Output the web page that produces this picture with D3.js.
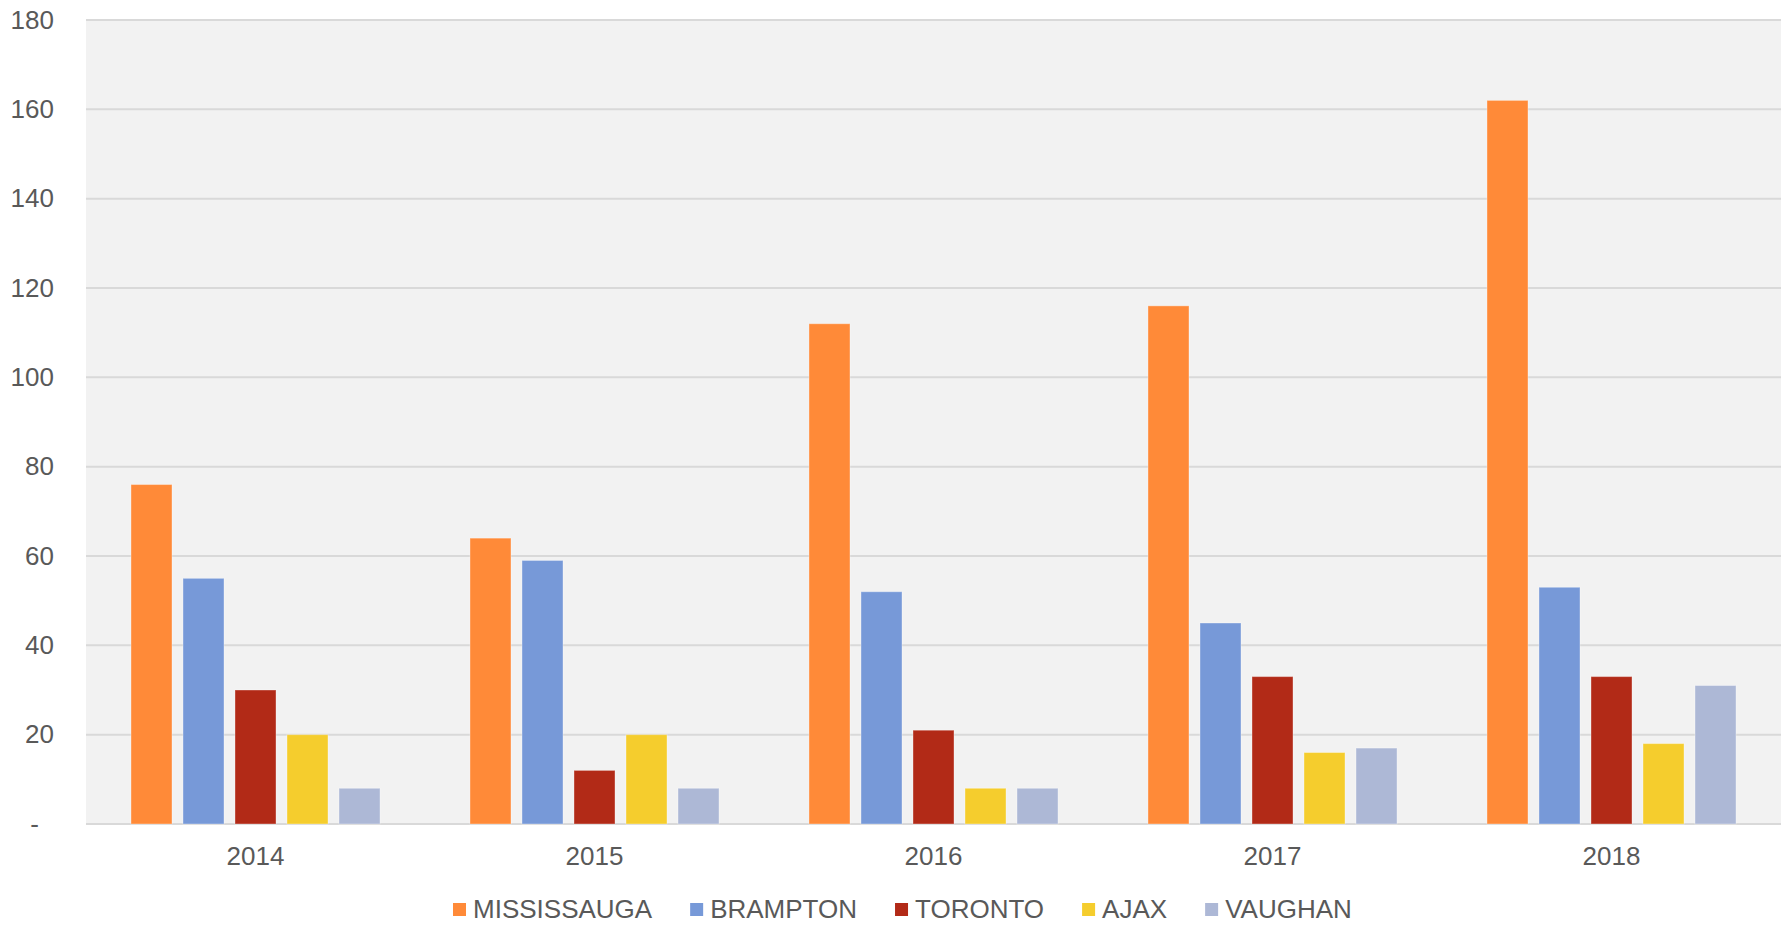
<!DOCTYPE html>
<html>
<head>
<meta charset="utf-8">
<script src="https://cdn.jsdelivr.net/npm/d3@7"></script>
<style>
  html, body { margin: 0; padding: 0; background: #ffffff; }
  svg { display: block; }
  text { font-family: "Liberation Sans", Arial, sans-serif; fill: #595959; }
</style>
</head>
<body>
<svg id="chart" width="1787" height="925"></svg>
<script>
const years = ["2014", "2015", "2016", "2017", "2018"];
const cities = ["MISSISSAUGA", "BRAMPTON", "TORONTO", "AJAX", "VAUGHAN"];
const colors = ["#FF8A38", "#7799D8", "#B22A17", "#F5CD2D", "#ADB8D6"];
const mississauga = [76, 64, 112, 116, 162];
const brampton = [55, 59, 52, 45, 53];
const toronto = [30, 12, 21, 33, 33];
const ajax = [20, 20, 8, 16, 18];
const vaughan = [8, 8, 8, 17, 31];
const yTicks = [0, 20, 40, 60, 80, 100, 120, 140, 160, 180];

const seriesValues = [mississauga, brampton, toronto, ajax, vaughan];

const svg = d3.select("#chart");
const plot = { left: 86, right: 1781, top: 20, bottom: 824 };

const x0 = d3.scaleBand().domain(years).range([plot.left, plot.right]).padding(0);
const x1 = d3.scaleBand().domain(cities).range([0, x0.bandwidth()])
  .paddingInner(11 / 52).paddingOuter(0.865);
const y = d3.scaleLinear().domain([0, 180]).range([plot.bottom, plot.top]);

// plot background
svg.append("rect")
  .attr("x", plot.left).attr("y", plot.top)
  .attr("width", plot.right - plot.left).attr("height", plot.bottom - plot.top)
  .attr("fill", "#f2f2f2");

// gridlines
svg.append("g").selectAll("line").data(yTicks).join("line")
  .attr("x1", plot.left).attr("x2", plot.right)
  .attr("y1", d => y(d)).attr("y2", d => y(d))
  .attr("stroke", "#d9d9d9").attr("stroke-width", 2);

// y axis labels
const yAxis = d3.axisLeft(y).tickValues(yTicks).tickSize(0).tickPadding(0)
  .tickFormat(d => d === 0 ? "-" : d);
const yg = svg.append("g").attr("transform", `translate(${plot.left - 32},0)`).call(yAxis);
yg.select(".domain").remove();
yg.selectAll("text")
  .attr("font-size", 26)
  .attr("font-family", "Liberation Sans, Arial, sans-serif")
  .attr("fill", "#595959")
  .attr("dx", d => d === 0 ? -15 : 0);

// bars
const groups = svg.append("g").selectAll("g").data(years).join("g")
  .attr("transform", d => `translate(${x0(d)},0)`);
groups.selectAll("rect")
  .data((yr, i) => cities.map((c, k) => ({ city: c, value: seriesValues[k][i], color: colors[k] })))
  .join("rect")
  .attr("x", d => x1(d.city))
  .attr("y", d => y(d.value))
  .attr("width", x1.bandwidth())
  .attr("height", d => y(0) - y(d.value))
  .attr("fill", d => d.color)
  .attr("stroke", "#ffffff").attr("stroke-opacity", 0.35).attr("stroke-width", 1);

// x axis labels
const xAxis = d3.axisBottom(x0).tickSize(0).tickPadding(0);
const xg = svg.append("g").attr("transform", `translate(0,${plot.bottom})`).call(xAxis);
xg.select(".domain").remove();
xg.selectAll("text")
  .attr("font-size", 26)
  .attr("font-family", "Liberation Sans, Arial, sans-serif")
  .attr("fill", "#595959")
  .attr("dy", null)
  .attr("y", 41);

// legend
const legend = svg.append("g");
let lx = 453;
cities.forEach((c, k) => {
  const g = legend.append("g").attr("transform", `translate(${lx},0)`);
  g.append("rect").attr("x", 0).attr("y", 903).attr("width", 13).attr("height", 13).attr("fill", colors[k]);
  const t = g.append("text").attr("x", 20).attr("y", 918).attr("font-size", 26).text(c);
  lx += 20 + t.node().getComputedTextLength() + 38;
});
</script>
</body>
</html>
